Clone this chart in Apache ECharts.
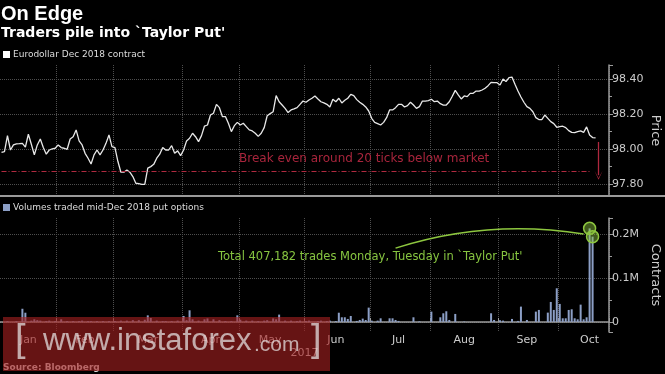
<!DOCTYPE html>
<html><head><meta charset="utf-8">
<script src="https://cdn.jsdelivr.net/npm/echarts@6/dist/echarts.min.js"></script>
<style>html,body{margin:0;padding:0;background:#000;}#c{width:665px;height:374px;}</style>
</head><body><div id="c"></div>
<script>
// ---- data ----
const titleText = 'On Edge';
const subtitleText = "Traders pile into `Taylor Put'";
const priceName = 'Eurodollar Dec 2018 contract';
const volumeName = 'Volumes traded mid-Dec 2018 put options';
const firstDay = '2017-01-04';
const lastDay = '2017-10-24';
const holidays = ['2017-01-16','2017-02-20','2017-04-14','2017-05-29','2017-07-04','2017-09-04'];
const monthLabelDates = ['2017-01-18','2017-02-14','2017-03-16','2017-04-17','2017-05-15','2017-06-15','2017-07-17','2017-08-16','2017-09-15','2017-10-16'];
const monthLabels = ['Jan','Feb','Mar','Apr','May','Jun','Jul','Aug','Sep','Oct'];
const yearLabel = '2017';

const priceJan = [97.981,97.985,98.076,97.994,98.023,98.029,98.030,98.032,98.010,98.084,98.027,97.966,98.023,98.057,98.008,97.970,97.994,98.000,98.004];
const priceFeb = [98.023,98.008,98.004,97.998,98.057,98.070,98.109,98.046,98.023,97.975,97.947,97.914,97.966,97.994,97.966,97.994,98.032,98.080,98.013];
const priceMar = [98.008,97.928,97.867,97.867,97.880,97.867,97.842,97.804,97.802,97.798,97.798,97.890,97.899,97.912,97.947,97.970,98.008,97.994,97.994,98.019,97.975,97.989,97.962];
const priceApr = [97.994,98.046,98.061,98.090,98.070,98.042,98.076,98.131,98.137,98.194,98.204,98.255,98.236,98.185,98.185,98.147,98.099,98.133,98.152];
const priceMay = [98.137,98.147,98.128,98.109,98.103,98.090,98.072,98.090,98.122,98.190,98.202,98.213,98.305,98.270,98.251,98.232,98.208,98.223,98.229,98.236,98.255,98.274];
const priceJun = [98.267,98.280,98.290,98.303,98.286,98.270,98.263,98.255,98.240,98.284,98.270,98.290,98.263,98.278,98.290,98.312,98.305,98.282,98.267,98.255,98.240,98.217];
const priceJul = [98.175,98.152,98.145,98.137,98.152,98.179,98.223,98.223,98.236,98.255,98.255,98.240,98.248,98.267,98.251,98.232,98.242,98.274,98.274,98.276];
const priceAug = [98.284,98.270,98.274,98.259,98.251,98.251,98.270,98.301,98.335,98.309,98.286,98.303,98.299,98.318,98.318,98.331,98.331,98.337,98.347,98.362,98.381,98.379,98.379];
const priceSep = [98.366,98.400,98.385,98.408,98.411,98.370,98.331,98.297,98.267,98.242,98.232,98.213,98.179,98.168,98.168,98.194,98.175,98.156,98.145,98.124];
const priceOct = [98.128,98.130,98.122,98.105,98.095,98.093,98.099,98.103,98.095,98.126,98.080,98.065,98.063];

const volJan = [0,0,2000,0,0,2000,0,30000,21000,0,3000,6000,4000,3000,0,2000,3000,0,2000];
const volFeb = [0,6000,0,2000,0,2000,0,2000,3000,0,2000,2000,0,2000,0,2000,0,2000,0];
const volMar = [2000,0,3000,0,3000,0,4000,0,4000,0,5000,15000,9000,0,3000,0,2000,2000,0,2000,0,3000,0];
const volApr = [13600,4000,26500,6000,0,3000,0,6000,8000,0,6000,0,4000,0,2000,0,2000,0,15000];
const volMay = [5000,0,3000,0,3000,0,2000,0,3000,4000,0,8000,6000,16700,0,3000,0,3000,0,2000,3000,0];
const volJun = [2000,3000,0,0,2000,3000,0,2000,3000,0,2000,21000,10600,10600,6800,13600,0,2300,4500,7600,4500,32600];
const volJul = [3000,0,3000,8300,0,0,8300,8300,4500,2300,0,0,0,0,10600,0,1500,0,0,0];
const volAug = [23500,0,0,10600,19700,24300,4500,0,18200,0,0,1000,0,0,0,0,0,0,0,0,19700,4500,0];
const volSep = [3800,3000,0,0,6800,0,2300,34900,0,4500,0,0,23500,27300,0,0,21200,45500,27300,76600];
const volOct = [41000,8300,8300,27300,28800,8300,6000,39400,6000,10600,213000,194182];

const breakEven = 97.87;
const arrowFrom = 98.04, arrowTo = 97.85;
const breakEvenText = 'Break even around 20 ticks below market';
const totalText = "Total 407,182 trades Monday, Tuesday in `Taylor Put'";
const curveFrom = ['2017-07-14', 168000];
const curveTo = ['2017-10-12', 200000];

// ---- build ----
const categories = [];
(function(){
  let d = new Date(firstDay + 'T00:00:00Z');
  const end = new Date(lastDay + 'T00:00:00Z');
  while (d <= end) {
    const s = d.toISOString().slice(0,10);
    const wd = d.getUTCDay();
    if (wd !== 0 && wd !== 6 && holidays.indexOf(s) < 0) categories.push(s);
    d = new Date(d.getTime() + 86400000);
  }
})();
const prices = [].concat(priceJan,priceFeb,priceMar,priceApr,priceMay,priceJun,priceJul,priceAug,priceSep,priceOct);
const volumes = [].concat(volJan,volFeb,volMar,volApr,volMay,volJun,volJul,volAug,volSep,volOct);
const lastPriceIdx = prices.length - 1;
const monthStart = (i) => i > 0 && categories[i].slice(0,7) !== categories[i-1].slice(0,7);
const isLabel = (i) => monthLabelDates.indexOf(categories[i]) >= 0;

const grey = '#9a9a9a', grid = '#4e4e4e', txt = '#cccccc';
const FONT = '"DejaVu Sans", sans-serif';

const chart = echarts.init(document.getElementById('c'), null, {renderer: 'canvas'});
chart.setOption({
  backgroundColor: '#000',
  animation: false,
  title: {
    text: titleText, subtext: subtitleText, left: 1, top: 3, padding: 0, itemGap: 0,
    textStyle: {color: '#fff', fontFamily: '"Liberation Sans", Arial, sans-serif', fontWeight: 'bold', fontSize: 20, lineHeight: 22},
    subtextStyle: {color: '#fff', fontFamily: FONT, fontWeight: 'bold', fontSize: 14, lineHeight: 17}
  },
  legend: [
    {data: [{name: priceName, icon: 'rect'}], left: 3, top: 50, padding: 0, itemWidth: 7, itemHeight: 7, itemGap: 0,
     textStyle: {color: '#dddddd', fontFamily: FONT, fontSize: 9, padding: [0,0,0,-2]}},
    {data: [{name: volumeName, icon: 'rect'}], left: 3, top: 203, padding: 0, itemWidth: 7, itemHeight: 7, itemGap: 0,
     textStyle: {color: '#dddddd', fontFamily: FONT, fontSize: 9, padding: [0,0,0,-2]}}
  ],
  grid: [
    {left: 0, right: 56, top: 65, bottom: 178, containLabel: false, outerBoundsMode: 'none'},
    {left: 0, right: 56, top: 218, bottom: 42, containLabel: false, outerBoundsMode: 'none'}
  ],
  xAxis: [
    {type: 'category', gridIndex: 0, data: categories, boundaryGap: true,
     axisLine: {show: false}, axisTick: {show: false}, axisLabel: {show: false},
     splitLine: {show: true, interval: monthStart, lineStyle: {type: 'dotted', color: grid, width: 1}}},
    {type: 'category', gridIndex: 1, data: categories, boundaryGap: true,
     axisLine: {show: true, lineStyle: {color: grey, width: 1.5}},
     axisTick: {show: true, interval: monthStart, inside: true, length: 4, lineStyle: {color: grey}},
     axisLabel: {show: true, interval: isLabel, formatter: (v) => monthLabels[monthLabelDates.indexOf(v)], color: txt, fontFamily: FONT, fontSize: 11, margin: 3},
     splitLine: {show: true, interval: monthStart, lineStyle: {type: 'dotted', color: grid, width: 1}},
     name: yearLabel, nameLocation: 'middle', nameGap: 16, nameMoveOverlap: false, nameTextStyle: {color: txt, fontFamily: FONT, fontSize: 11}}
  ],
  yAxis: [
    {type: 'value', gridIndex: 0, position: 'right', min: 97.731, max: 98.48, splitNumber: 4,
     axisLine: {show: true, lineStyle: {color: grey, width: 1.5}},
     axisTick: {show: true, length: 4, lineStyle: {color: grey}},
     minorTick: {show: true, splitNumber: 2, length: 3, lineStyle: {color: grey}},
     axisLabel: {formatter: (v) => v.toFixed(2), color: txt, fontFamily: FONT, fontSize: 11, margin: 3, showMinLabel: false, showMaxLabel: false},
     splitLine: {show: true, showMinLine: false, showMaxLine: false, lineStyle: {type: 'dotted', color: grid}},
     name: 'Price', nameLocation: 'middle', nameRotate: -90, nameGap: 40, nameMoveOverlap: false,
     nameTextStyle: {color: txt, fontFamily: FONT, fontSize: 13}},
    {type: 'value', gridIndex: 1, position: 'right', min: -22900, max: 236600, splitNumber: 3,
     axisLine: {show: true, lineStyle: {color: grey, width: 1.5}},
     axisTick: {show: true, length: 4, lineStyle: {color: grey}},
     minorTick: {show: true, splitNumber: 2, length: 3, lineStyle: {color: grey}},
     axisLabel: {formatter: (v) => v === 0 ? '0' : (v / 1e6) + 'M', color: txt, fontFamily: FONT, fontSize: 11, margin: 3, showMinLabel: false, showMaxLabel: false},
     splitLine: {show: true, showMinLine: false, showMaxLine: false, lineStyle: {type: 'dotted', color: grid}},
     name: 'Contracts', nameLocation: 'middle', nameRotate: -90, nameGap: 40, nameMoveOverlap: false,
     nameTextStyle: {color: txt, fontFamily: FONT, fontSize: 13}}
  ],
  series: [
    {name: priceName, type: 'line', xAxisIndex: 0, yAxisIndex: 0, data: prices,
     showSymbol: false, symbol: 'none', itemStyle: {color: '#ffffff'},
     lineStyle: {color: '#e8e8e8', width: 1.3},
     markLine: {silent: true, animation: false, label: {show: false}, emphasis: {disabled: true},
       data: [
         [{coord: [categories[0], breakEven], symbol: 'none', lineStyle: {type: [5,2,1,2], color: '#b02a40', width: 1.2}},
          {coord: [categories[lastPriceIdx - 2], breakEven], symbol: 'none'}],
         [{coord: [categories[lastPriceIdx + 1], arrowFrom], symbol: 'none', lineStyle: {type: 'solid', color: '#b0283f', width: 1.3}},
          {coord: [categories[lastPriceIdx + 1], arrowTo], symbol: 'path://M0,10 L5,0 L10,10 L5,2 Z', symbolSize: [8, 9]}]
       ]}},
    {name: volumeName, type: 'bar', xAxisIndex: 1, yAxisIndex: 1, data: volumes,
     barWidth: 2, itemStyle: {color: '#8c9fc6'},
     markPoint: {silent: true, symbol: 'circle', symbolSize: 12, label: {show: false},
       itemStyle: {color: 'rgba(141,198,63,0.45)', borderColor: '#8dc63f', borderWidth: 1.5},
       data: [{coord: [categories[volumes.length - 2], volumes[volumes.length - 2]]},
              {coord: [categories[volumes.length - 1], volumes[volumes.length - 1]]}]}},
    {name: 'annotation', type: 'lines', coordinateSystem: 'cartesian2d', xAxisIndex: 1, yAxisIndex: 1,
     silent: true, symbol: 'none', z: 5,
     lineStyle: {color: '#8dc63f', width: 1.5, opacity: 1, curveness: 0.12},
     data: [{coords: [[categories.indexOf(curveFrom[0]), curveFrom[1]], [categories.indexOf(curveTo[0]), curveTo[1]]]}]}
  ],
  graphic: [
    {type: 'text', left: 239, top: 153, z: 50, style: {text: breakEvenText, fill: '#a8253c', font: '12px "DejaVu Sans"'}},
    {type: 'text', left: 218, top: 251, z: 50, style: {text: totalText, fill: '#86c440', font: '11.5px "DejaVu Sans"'}},
    {type: 'line', z: 50, shape: {x1: 0, y1: 196, x2: 665, y2: 196}, style: {stroke: grey, lineWidth: 2}},
    {type: 'text', x: 3, y: 367.5, z: 60, style: {text: 'Source: Bloomberg', fill: '#dddddd', font: 'bold 9px "DejaVu Sans"', verticalAlign: 'middle'}},
    {type: 'rect', z: 100, shape: {x: 3, y: 317, width: 327, height: 54}, style: {fill: 'rgba(165,32,32,0.62)'}},
    {type: 'text', x: 15, y: 341, z: 101, style: {text: '[', fill: 'rgba(235,235,235,0.7)', font: '38px "Liberation Sans"', verticalAlign: 'middle'}},
    {type: 'text', x: 43, y: 341, z: 101, style: {text: 'www.instaforex', fill: 'rgba(235,235,235,0.7)', font: '31px "Liberation Sans"', verticalAlign: 'middle'}},
    {type: 'text', x: 254, y: 345, z: 101, style: {text: '.com', fill: 'rgba(235,235,235,0.7)', font: '21px "Liberation Sans"', verticalAlign: 'middle'}},
    {type: 'text', x: 311, y: 341, z: 101, style: {text: ']', fill: 'rgba(235,235,235,0.7)', font: '38px "Liberation Sans"', verticalAlign: 'middle'}}
  ]
});
</script>
</body></html>
